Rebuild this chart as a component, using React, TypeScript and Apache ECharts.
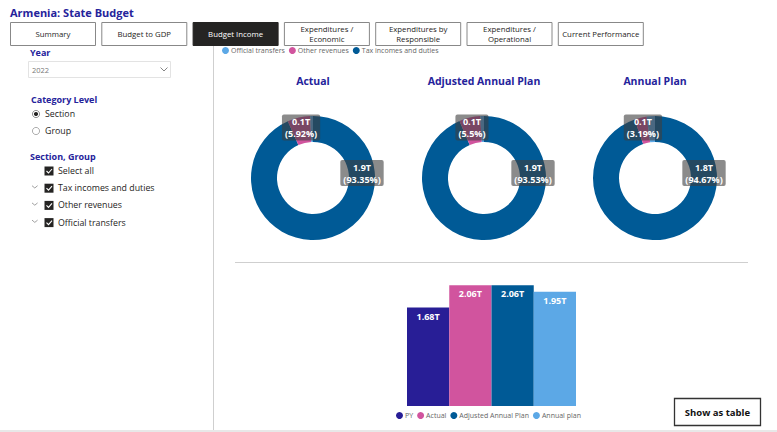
import React, { useEffect, useRef } from "react";
import * as echarts from "echarts";

const pieCategories = ["Tax incomes and duties", "Other revenues", "Official transfers"];
const pieLegendOrder = ["Official transfers", "Other revenues", "Tax incomes and duties"];
const pieColors = ["#005A96", "#D1549E", "#5CA8E6"];
const pieTitles = ["Actual", "Adjusted Annual Plan", "Annual Plan"];
const pieTotals = [2.06, 2.06, 1.95];
const actualShares = [93.35, 5.92, 0.73];
const adjustedShares = [93.53, 5.5, 0.97];
const annualShares = [94.67, 3.19, 2.14];

const barNames = ["PY", "Actual", "Adjusted Annual Plan", "Annual plan"];
const barValues = [1.68, 2.06, 2.06, 1.95];
const barColors = ["#281E96", "#D1549E", "#005A96", "#5CA8E6"];

const tabs = [
  "Summary",
  "Budget to GDP",
  "Budget Income",
  "Expenditures /\nEconomic",
  "Expenditures by\nResponsible",
  "Expenditures /\nOperational",
  "Current Performance",
];
const yearValue = "2022";
const checkItems = ["Select all", "Tax incomes and duties", "Other revenues", "Official transfers"];

const FONT = "'Segoe UI', 'Open Sans', sans-serif";
const BLUE = "#25239B";

export default function App() {
  const ref = useRef<HTMLDivElement>(null);
  useEffect(() => {
    if (!ref.current) return;
    const chart = echarts.init(ref.current, undefined, { renderer: "svg" });

    const centers = [313, 484, 655];
    const cy = 178;
    const sharesList = [actualShares, adjustedShares, annualShares];

    const pieSeries = sharesList.map((shares, si) => ({
      type: "pie",
      name: pieTitles[si] + " share",
      center: [centers[si], cy],
      radius: [36, 62],
      startAngle: 90,
      clockwise: true,
      silent: true,
      avoidLabelOverlap: false,
      label: {
        show: true,
        position: "inside",
        color: "#fff",
        fontWeight: "bold",
        fontSize: 9,
        lineHeight: 12,
        fontFamily: FONT,
        backgroundColor: "rgba(62,62,62,0.6)",
        padding: [1, 3, 1, 3],
        borderRadius: 2,
        formatter: (p: any) => {
          const amt = (pieTotals[si] * p.value) / 100;
          return `${amt.toFixed(1)}T\n(${p.value}%)`;
        },
      },
      labelLine: { show: false },
      labelLayout: (params: any) => {
        if (params.dataIndex === 0) {
          return { x: centers[si] + 49, y: cy - 5, align: "center", verticalAlign: "middle" };
        }
        return {};
      },
      data: pieCategories.map((n, i) => ({
        name: n,
        value: shares[i],
        itemStyle: { color: pieColors[i] },
        label: i === 2 ? { show: false } : undefined,
      })),
    }));

    const barSeries = barNames.map((n, i) => ({
      type: "bar",
      name: n,
      data: [barValues[i]],
      itemStyle: { color: barColors[i] },
      barGap: "0%",
      barCategoryGap: "0%",
      silent: true,
      label: {
        show: true,
        position: "insideTop",
        distance: 4,
        color: "#fff",
        fontWeight: "bold",
        fontSize: 9,
        fontFamily: FONT,
        formatter: (p: any) => `${p.value.toFixed(2)}T`,
      },
    }));

    const graphics: any[] = [];
    graphics.push({
      type: "text",
      x: 10,
      y: 12,
      style: { text: "Armenia: State Budget", fill: BLUE, font: `bold 11px ${FONT}`, verticalAlign: "middle" },
    });
    tabs.forEach((t, i) => {
      const x = 10 + i * 91.3;
      const active = i === 2;
      graphics.push({
        type: "rect",
        shape: { x: x + 0.5, y: 22.5, width: 85, height: 23 },
        style: { fill: active ? "#252423" : "#fff", stroke: active ? "#252423" : "#888", lineWidth: 1 },
      });
      graphics.push({
        type: "text",
        x: x + 43,
        y: 34,
        style: {
          text: t,
          fill: active ? "#fff" : "#252423",
          font: `7.8px ${FONT}`,
          align: "center",
          verticalAlign: "middle",
          lineHeight: 10.5,
        },
      });
    });
    graphics.push({ type: "line", shape: { x1: 213.5, y1: 46, x2: 213.5, y2: 432 }, style: { stroke: "#cfcfcf", lineWidth: 1 } });
    graphics.push({ type: "line", shape: { x1: 235, y1: 262.5, x2: 748, y2: 262.5 }, style: { stroke: "#cfcfcf", lineWidth: 1 } });
    graphics.push({ type: "rect", shape: { x: 0, y: 430, width: 777, height: 2 }, style: { fill: "#e8e8e8" } });

    const header = (text: string, x: number, y: number) =>
      graphics.push({ type: "text", x, y, style: { text, fill: BLUE, font: `bold 9px ${FONT}`, verticalAlign: "middle" } });
    header("Year", 30, 52);
    graphics.push({
      type: "rect",
      shape: { x: 28.5, y: 61.5, width: 142, height: 16 },
      style: { fill: "#fff", stroke: "#e3e3e3", lineWidth: 1 },
    });
    graphics.push({ type: "text", x: 32, y: 70, style: { text: yearValue, fill: "#777", font: `7.5px ${FONT}`, verticalAlign: "middle" } });
    graphics.push({ type: "polyline", shape: { points: [[160.5, 67.5], [164, 71], [167.5, 67.5]] }, style: { stroke: "#777", lineWidth: 0.9, fill: "none" } });
    header("Category Level", 31, 99);
    graphics.push({ type: "circle", shape: { cx: 36, cy: 114, r: 3.6 }, style: { fill: "#fff", stroke: "#777", lineWidth: 0.8 } });
    graphics.push({ type: "circle", shape: { cx: 36, cy: 114, r: 2.1 }, style: { fill: "#252423" } });
    graphics.push({ type: "text", x: 45, y: 114, style: { text: "Section", fill: "#252423", font: `8.8px ${FONT}`, verticalAlign: "middle" } });
    graphics.push({ type: "circle", shape: { cx: 36, cy: 131, r: 3.6 }, style: { fill: "#fff", stroke: "#999", lineWidth: 0.8 } });
    graphics.push({ type: "text", x: 45, y: 131, style: { text: "Group", fill: "#252423", font: `8.8px ${FONT}`, verticalAlign: "middle" } });
    header("Section, Group", 30, 156);
    checkItems.forEach((t, i) => {
      const y = 171 + i * 17.2;
      if (i > 0) {
        graphics.push({
          type: "polyline",
          shape: { points: [[32, y - 2.5], [34.8, y - 0.2], [37.6, y - 2.5]] },
          style: { stroke: "#888", lineWidth: 0.8, fill: "none" },
        });
      }
      graphics.push({ type: "rect", shape: { x: 44.5, y: y - 4.5, width: 9, height: 9 }, style: { fill: "#252423" } });
      graphics.push({
        type: "polyline",
        shape: { points: [[46.5, y], [48.5, y + 2], [52, y - 2]] },
        style: { stroke: "#fff", lineWidth: 1.1, fill: "none" },
      });
      graphics.push({ type: "text", x: 58, y, style: { text: t, fill: "#252423", font: `8.8px ${FONT}`, verticalAlign: "middle" } });
    });

    pieTitles.forEach((t, i) => {
      graphics.push({
        type: "text",
        x: centers[i],
        y: 81,
        style: { text: t, fill: BLUE, font: `bold 10.5px ${FONT}`, align: "center", verticalAlign: "middle" },
      });
    });

    graphics.push({
      type: "rect",
      shape: { x: 674.5, y: 398.5, width: 86, height: 27 },
      style: { fill: "#fff", stroke: "#333", lineWidth: 1.3 },
    });
    graphics.push({
      type: "text",
      x: 717.5,
      y: 412,
      style: { text: "Show as table", fill: "#111", font: `bold 9.5px ${FONT}`, align: "center", verticalAlign: "middle" },
    });

    chart.setOption({
      animation: false,
      textStyle: { fontFamily: FONT },
      legend: [
        {
          data: pieLegendOrder,
          left: 222,
          top: 47,
          padding: 0,
          icon: "circle",
          itemWidth: 7,
          itemHeight: 7,
          itemGap: 4,
          selectedMode: false,
          textStyle: { fontSize: 7, color: "#666", fontFamily: FONT, padding: [0, 0, 0, -3] },
        },
        {
          data: barNames,
          left: 396,
          top: 412,
          padding: 0,
          icon: "circle",
          itemWidth: 7,
          itemHeight: 7,
          itemGap: 4,
          selectedMode: false,
          textStyle: { fontSize: 7, color: "#666", fontFamily: FONT, padding: [0, 0, 0, -3] },
        },
      ],
      grid: { left: 407, width: 169, top: 283, bottom: 26 },
      xAxis: { type: "category", data: ["2022"], show: false },
      yAxis: { type: "value", min: 0, max: 2.1, show: false },
      series: [...pieSeries, ...barSeries],
      graphic: graphics,
    } as any);
    return () => chart.dispose();
  }, []);
  return <div ref={ref} style={{ position: "absolute", left: 0, top: 0, width: 777, height: 432, background: "#fff" }} />;
}
